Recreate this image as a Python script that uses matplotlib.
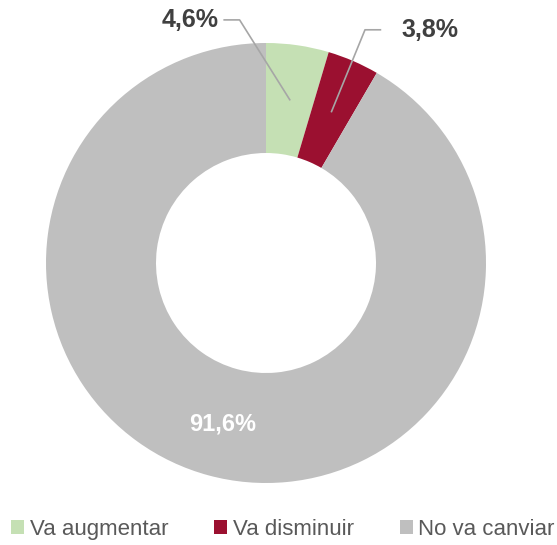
import numpy as np
import matplotlib
matplotlib.use("Agg")
import matplotlib.pyplot as plt

labels = ["Va augmentar", "Va disminuir", "No va canviar"]
values = [4.6, 3.8, 91.6]
value_texts = ["4,6%", "3,8%", "91,6%"]
colors = ["#C5E0B4", "#9B1030", "#BFBFBF"]

plt.rcParams["font.family"] = ["Liberation Sans", "DejaVu Sans"]

W, H = 557, 545
fig = plt.figure(figsize=(W / 100, H / 100), dpi=100)

# donut centred at (266, 263) px, radius 220 px
cx, cy, r = 266, 263, 220
ax = fig.add_axes([(cx - r) / W, (H - cy - r) / H, 2 * r / W, 2 * r / H])

wedges, _ = ax.pie(values, colors=colors, startangle=90, counterclock=False,
                   radius=1, wedgeprops=dict(width=0.5, linewidth=0))
ax.set_xlim(-1, 1)
ax.set_ylim(-1, 1)
ax.set_aspect("equal")
ax.axis("off")

# mid angles of each wedge
cum = np.cumsum([0] + values)
mids = [90 - (cum[i] + values[i] / 2) * 3.6 for i in range(len(values))]

def mid_point(i, rr=0.75):
    a = np.deg2rad(mids[i])
    return rr * np.cos(a), rr * np.sin(a)

# outside labels with leader lines
line_col = "#A6A6A6"
outside = {0: (-0.345, 1.105, -0.19, -0.12), 1: (0.745, 1.06, 0.52, 0.45)}
for i, (tx, ty, lx0, lx1) in outside.items():
    px, py = mid_point(i)
    ax.plot([lx0, lx1, px], [ty, ty, py], color=line_col, lw=1.2, clip_on=False)
    ax.text(tx, ty, value_texts[i], ha="center", va="center", fontsize=18,
            fontweight="bold", color="#404040", clip_on=False)

px, py = mid_point(2)
ax.text(px, py - 0.008, value_texts[2], ha="center", va="center", fontsize=17,
        fontweight="bold", color="white")

fig.legend(wedges, labels, loc="lower center", bbox_to_anchor=(0.508, -0.027),
           ncol=3, frameon=False, fontsize=16, labelcolor="#595959",
           handlelength=0.6, handleheight=0.6, handletextpad=0.25,
           columnspacing=2.05)

fig.savefig("out.png", dpi=100)
